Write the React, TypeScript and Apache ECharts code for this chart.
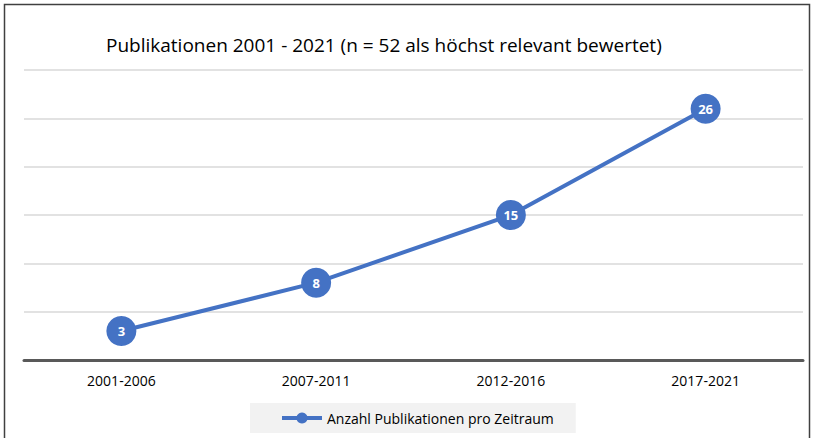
import React, { useEffect, useRef } from "react";
import * as echarts from "echarts";

const categories = ["2001-2006", "2007-2011", "2012-2016", "2017-2021"];
const values = [3, 8, 15, 26];
const seriesName = "Anzahl Publikationen pro Zeitraum";
const titleText = "Publikationen 2001 - 2021 (n = 52 als höchst relevant bewertet)";

export default function App() {
  const ref = useRef<HTMLDivElement>(null);
  useEffect(() => {
    document.body.style.margin = "0";
    const chart = echarts.init(ref.current!, null, { renderer: "svg" });
    const font = "Open Sans, Noto Sans, sans-serif";
    chart.setOption({
      animation: false,
      backgroundColor: "#ffffff",
      textStyle: { fontFamily: font },
      title: {
        text: titleText,
        left: 101,
        top: 30,
        textStyle: { fontSize: 19, fontWeight: "normal", color: "#000", fontFamily: font },
      },
      grid: { left: 24, right: 12, top: 70, bottom: 78, containLabel: false },
      legend: {
        bottom: 5,
        left: 250,
        itemWidth: 40,
        itemHeight: 14,
        itemGap: 8,
        padding: [8, 22, 8, 30],
        backgroundColor: "#f2f2f2",
        lineStyle: { width: 4, color: "#4472c4" },
        textStyle: { fontSize: 14, color: "#000", fontFamily: font },
        data: [seriesName],
      },
      xAxis: {
        type: "category",
        data: categories,
        boundaryGap: true,
        axisLine: { lineStyle: { color: "#595959", width: 3 } },
        axisTick: { show: false },
        axisLabel: { fontSize: 14, color: "#000", margin: 13, fontFamily: font },
      },
      yAxis: {
        type: "value",
        min: 0,
        max: 30,
        interval: 5,
        axisLabel: { show: false },
        axisLine: { show: false },
        axisTick: { show: false },
        splitLine: { lineStyle: { color: "#d9d9d9", width: 1.5 } },
      },
      series: [
        {
          name: seriesName,
          type: "line",
          data: values,
          symbol: "circle",
          symbolSize: 30,
          lineStyle: { color: "#4472c4", width: 4 },
          itemStyle: { color: "#4472c4" },
          label: {
            show: true,
            position: "inside",
            color: "#fff",
            fontWeight: "bold",
            fontSize: 13,
            fontFamily: font,
          },
        },
      ],
      graphic: [
        {
          type: "rect",
          shape: { x: 4.5, y: 4.5, width: 805, height: 440 },
          style: { fill: "none", stroke: "#404040", lineWidth: 1.5 },
          z: 100,
        },
      ],
    });
    return () => chart.dispose();
  }, []);
  return <div ref={ref} style={{ width: 815, height: 438 }} />;
}
